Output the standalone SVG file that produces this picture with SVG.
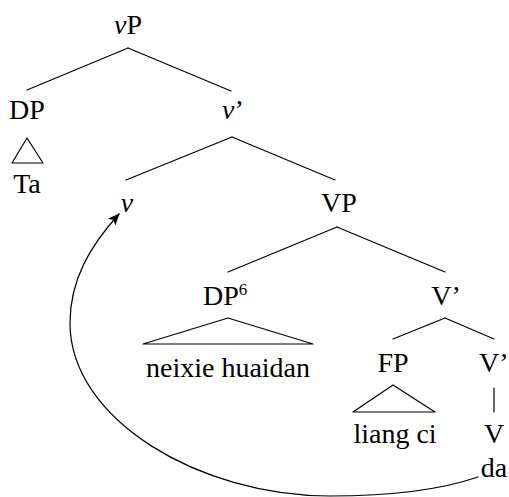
<svg xmlns="http://www.w3.org/2000/svg" width="509" height="497" viewBox="0 0 509 497">
  <defs>
    <style>
      text { font-family: "Liberation Serif", "DejaVu Serif", serif; font-size: 28px; fill: #000; }
      .c { text-anchor: middle; }
      .it { font-style: italic; }
      .edge { stroke: #000; stroke-width: 1.2; fill: none; stroke-linecap: round; }
      .tri { stroke: #000; stroke-width: 1.2; fill: none; stroke-linejoin: round; }
    </style>
    <marker id="arrowhead" viewBox="0 0 12 10" refX="11" refY="5" markerWidth="12" markerHeight="10" markerUnits="userSpaceOnUse" orient="auto">
      <path d="M0,0 L12,5 L0,10 L3,5 Z" fill="#000"/>
    </marker>
  </defs>

  <!-- tree branches and the movement arrow -->
  <g id="connectors">
    <line class="edge" x1="128" y1="48" x2="27" y2="90"/>
    <line class="edge" x1="128" y1="48" x2="231" y2="91"/>
    <line class="edge" x1="232" y1="137" x2="126" y2="180"/>
    <line class="edge" x1="232" y1="137" x2="335" y2="180"/>
    <line class="edge" x1="337" y1="227" x2="228" y2="272"/>
    <line class="edge" x1="337" y1="227" x2="445" y2="272"/>
    <line class="edge" x1="445" y1="318" x2="393" y2="339"/>
    <line class="edge" x1="445" y1="318" x2="494" y2="339"/>
    <line class="edge" x1="494" y1="388" x2="494" y2="412"/>
    <path class="edge" d="M478,477 C440,490 390,496 330,496 C200,496 70,420 70,323 C70,280 90,246 119,214" marker-end="url(#arrowhead)"/>
  </g>

  <g id="node-vP">
    <text class="c" x="128" y="34"><tspan class="it">v</tspan>P</text>
  </g>

  <g id="node-DP-subject">
    <text class="c" x="27" y="119">DP</text>
    <polygon class="tri" points="27,138 12,163 43,163"/>
    <text class="c" x="27" y="193">Ta</text>
  </g>

  <g id="node-v-bar">
    <text class="c" x="233" y="119"><tspan class="it">v</tspan>’</text>
  </g>

  <g id="node-v">
    <text class="c it" x="127" y="212">v</text>
  </g>

  <g id="node-VP">
    <text class="c" x="339" y="212">VP</text>
  </g>

  <g id="node-DP-object">
    <text x="203" y="305">DP<tspan font-size="17" dy="-10">6</tspan></text>
    <polygon class="tri" points="228,318 143,344 313,344"/>
    <text class="c" x="228" y="377">neixie huaidan</text>
  </g>

  <g id="node-V-bar-upper">
    <text class="c" x="446" y="305">V’</text>
  </g>

  <g id="node-FP">
    <text class="c" x="393" y="372">FP</text>
    <polygon class="tri" points="393,385 353,412 435,412"/>
    <text class="c" x="395" y="443">liang ci</text>
  </g>

  <g id="node-V-bar-lower">
    <text x="479" y="372">V’</text>
  </g>

  <g id="node-V">
    <text class="c" x="494" y="443">V</text>
    <text class="c" x="494" y="477">da</text>
  </g>
</svg>
